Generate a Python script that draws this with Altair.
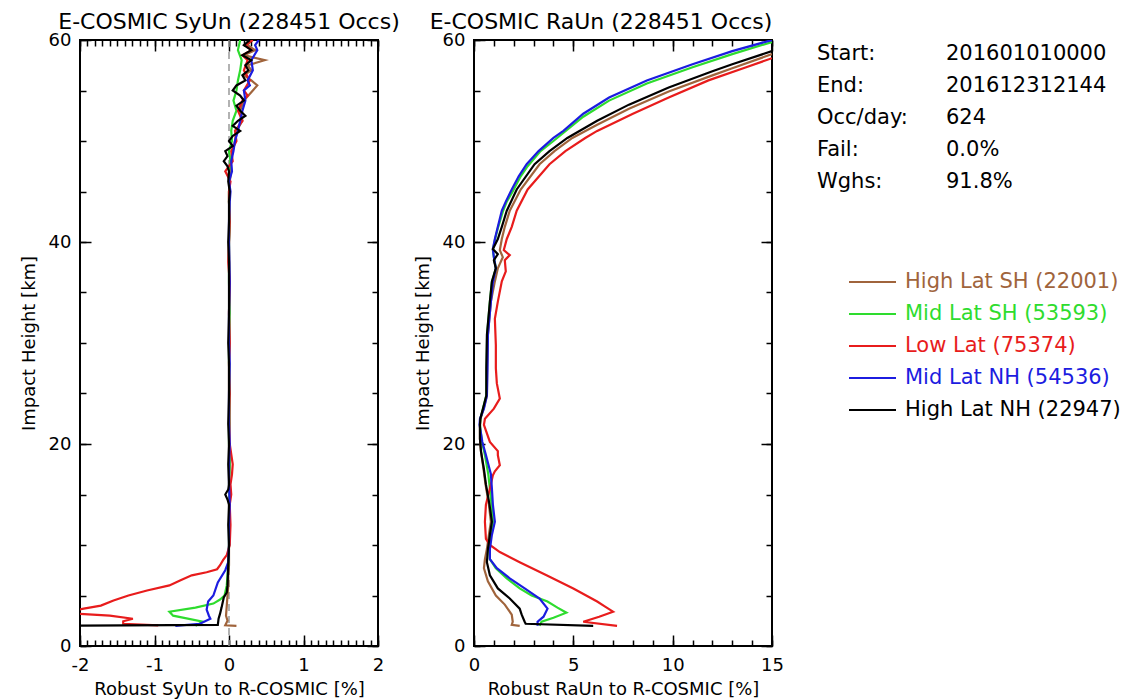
import altair as alt
import pandas as pd

FONT = "DejaVu Sans"

REGIONS = ["High Lat SH", "Mid Lat SH", "Low Lat", "Mid Lat NH", "High Lat NH"]
COUNTS = [22001, 53593, 75374, 54536, 22947]
COLORS = ["#a0643c", "#2edc2e", "#e81c1c", "#1c1ce0", "#000000"]

TITLE_SY = "E-COSMIC SyUn (228451 Occs)"
TITLE_RA = "E-COSMIC RaUn (228451 Occs)"
XTITLE_SY = "Robust SyUn to R-COSMIC [%]"
XTITLE_RA = "Robust RaUn to R-COSMIC [%]"
YTITLE = "Impact Height [km]"

INFO_LABELS = ["Start:", "End:", "Occ/day:", "Fail:", "Wghs:"]
INFO_VALUES = ["201601010000", "201612312144", "624", "0.0%", "91.8%"]

# ---------------- SyUn profiles (impact height km, value %) ----------------
SY_BROWN_H = [2.0, 2.05, 2.5, 3.0, 4.0, 5.0, 6.0, 7.0, 8.0, 10, 12, 14, 15, 16, 18, 20, 22, 25, 28, 30,
              33, 36, 40, 42, 44, 45, 46, 47, 48, 49, 50, 51, 52, 53, 54, 55, 55.5, 56, 56.5, 57,
              57.5, 58, 58.5, 59, 59.5, 60]
SY_BROWN_V = [0.1, -0.05, -0.02, -0.04, -0.03, -0.02, -0.01, -0.01, 0.0, 0.0, 0.01, 0.0, 0.01, 0.0, 0.01, 0.0, 0.01, 0.0, 0.0, 0.01,
              0.0, 0.01, 0.0, 0.01, 0.0, 0.0, 0.01, 0.03, 0.02, 0.05, 0.08, 0.1, 0.18, 0.15, 0.2, 0.32, 0.38, 0.3, 0.2, 0.3,
              0.25, 0.48, 0.2, 0.35, 0.25, 0.3]

SY_GREEN_H = [2.0, 2.4, 3.0, 3.4, 3.8, 4.2, 4.6, 5.0, 6.0, 7.0, 8.0, 10,
              12, 14, 16, 18, 20, 22, 25, 28, 30, 33, 36, 40, 42, 44,
              45, 46, 47, 48, 49, 50, 51, 52, 53, 54, 55, 56, 57, 58, 59, 60]
SY_GREEN_V = [-0.45, -0.35, -0.75, -0.8, -0.45, -0.21, -0.12, -0.06, -0.03, -0.02, -0.01, 0.0,
              0.0, 0.01, 0.0, 0.01, 0.0, 0.0, 0.01, 0.0, 0.0, 0.01, 0.0, 0.0, 0.01, 0.0,
              0.0, 0.01, 0.0, 0.02, 0.0, 0.04, 0.03, 0.05, 0.1, 0.06, 0.1, 0.12, 0.15, 0.17, 0.12, 0.15]

SY_RED_H = [2.05, 2.2, 2.45, 2.7, 3.0, 3.2, 3.45, 3.7, 4.0, 4.5, 5.0, 5.5, 6.0, 6.5, 7.0, 7.3, 7.6, 8.0, 8.5, 9.0, 10,
            12, 14, 15, 16, 17, 18, 19, 20, 22, 25, 28, 30, 33, 36, 38, 40, 42, 44,
            45, 46, 47, 48, 49, 50, 51, 52, 53, 54, 54.5, 55, 56, 57, 58, 58.5, 59, 59.5, 60]
SY_RED_V = [-0.95, -1.42, -1.42, -1.29, -1.6, -2.05, -2.15, -1.95, -1.72, -1.55, -1.35, -1.1, -0.8, -0.65, -0.5, -0.3, -0.16, -0.12, -0.08, -0.03, 0.01,
            0.02, 0.01, 0.03, 0.02, 0.04, 0.05, 0.03, 0.01, 0.0, 0.01, 0.0, 0.01, 0.0, 0.01, -0.01, 0.0, 0.01, 0.0,
            0.0, 0.02, -0.05, 0.05, 0.03, 0.1, 0.08, 0.18, 0.12, 0.18, 0.25, 0.2, 0.28, 0.2, 0.25, 0.18, 0.3, 0.22, 0.32]

SY_BLUE_H = [2.0, 2.2, 2.7, 3.0, 3.6, 4.4, 5.0, 6.3, 7.5, 8.3, 10,
             12, 14, 16, 18, 20, 22, 25, 28, 30, 33, 36, 40, 42, 44,
             45, 46, 47, 48, 49, 50, 51, 52, 53, 54, 55, 55.5, 56, 57, 58, 59, 59.5, 60]
SY_BLUE_V = [-0.72, -0.39, -0.25, -0.27, -0.30, -0.28, -0.21, -0.15, -0.05, -0.01, 0.0,
             0.0, 0.01, 0.0, 0.0, 0.01, 0.0, 0.0, 0.01, 0.0, 0.0, 0.01, 0.0, 0.0, 0.01,
             0.02, 0.0, 0.04, 0.03, 0.06, 0.08, 0.12, 0.15, 0.18, 0.22, 0.2, 0.28, 0.25, 0.32, 0.3, 0.38, 0.35, 0.4]

SY_BLACK_H = [2.0, 2.1, 2.7, 3.2, 3.8, 4.8, 5.3, 6.0, 8.0, 10,
              12, 14, 14.5, 15, 15.5, 16, 18, 20, 22, 25, 28, 30, 33, 36, 38, 40, 42, 44,
              45, 46, 47, 47.5, 48, 48.5, 49, 49.5, 50, 50.5, 51, 51.5, 52, 52.5, 53, 53.5, 54, 54.5,
              55, 55.5, 56, 56.5, 57, 57.5, 58, 58.5, 59, 59.5, 60]
SY_BLACK_V = [-2.2, -0.15, -0.14, -0.12, -0.10, -0.07, -0.03, -0.02, -0.01, 0.0,
              -0.01, 0.0, -0.02, -0.05, -0.01, 0.0, -0.01, 0.0, -0.01, 0.0, 0.0, -0.01, 0.0, 0.0, 0.0, -0.01, 0.0, 0.0,
              0.01, -0.01, 0.0, -0.02, -0.07, -0.02, -0.05, 0.05, 0.0, 0.05, 0.15, 0.05, 0.12, 0.22, 0.15, 0.1, 0.2, 0.15,
              0.05, 0.1, 0.22, 0.18, 0.26, 0.22, 0.3, 0.18, 0.3, 0.2, 0.28]

# ---------------- RaUn profiles ----------------
RA_BROWN_H = [2.0, 2.1, 2.4, 3.1, 4.1, 5.0, 6.4, 7.7, 8.6, 9.6, 11, 12.3, 14, 16, 17.5, 19.3, 20.5, 21.9, 22.5, 23.5,
              24.8, 27.5, 30.8, 34.1, 36.1, 37.4, 38.5, 39.2, 40.3, 41.5, 43.1, 45.2, 47.7, 49, 50.3, 51.6, 53.2,
              54.9, 56.5, 57.2, 58.6]
RA_BROWN_V = [2.3, 1.9, 1.95, 1.9, 1.55, 1.1, 0.7, 0.5, 0.55, 0.65, 0.75, 0.85, 0.75, 0.58, 0.48, 0.35, 0.3, 0.3, 0.33, 0.48,
              0.65, 0.66, 0.7, 0.85, 1.05, 1.2, 1.45, 1.3, 1.4, 1.55, 1.8, 2.35, 3.3, 4.05, 4.95, 6.2, 7.8,
              9.8, 12.0, 13.0, 15.0]

RA_GREEN_H = [2.0, 2.4, 2.8, 3.3, 3.8, 4.4, 5.0, 5.7, 6.7, 7.7, 8.6, 9.6, 11, 12.3, 14, 15.6, 17, 18.9, 20.2, 21.9,
              22.5, 23.5, 24.8, 27.5, 30.8, 34.1, 36, 37.4, 38.5, 39.2, 40.2, 41.5, 43, 44, 45, 46.5, 47.5, 49, 50,
              52.4, 54, 55.7, 57.3, 58.6, 59.8]
RA_GREEN_V = [3.3, 3.4, 4.0, 4.65, 4.2, 3.7, 2.9, 2.3, 1.65, 1.1, 0.8, 0.78, 0.85, 0.95, 0.88, 0.8, 0.72, 0.55, 0.4, 0.3,
              0.32, 0.45, 0.62, 0.64, 0.66, 0.8, 0.9, 1.1, 1.0, 0.95, 1.05, 1.22, 1.45, 1.65, 1.95, 2.35, 2.7, 3.35, 4.0,
              5.5, 6.8, 8.7, 11.0, 13.0, 15.0]

RA_RED_H = [2.0, 2.4, 2.9, 3.4, 3.9, 4.4, 5.7, 7.0, 8.3, 9.3, 10.0, 10.6, 12.3, 14.0, 15.6, 16.9, 17.3, 17.9, 18.9, 19.3,
            20.2, 21.9, 22.5, 23.5, 24.5, 26, 27.5, 29.8, 32.4, 34.1, 36.1, 37.1, 38.2, 38.7, 39.2, 40.3, 41.5, 43.1,
            45.2, 47.7, 49, 50.3, 51, 52.7, 54.3, 56, 57.3, 58.2]
RA_RED_V = [7.2, 5.5, 6.3, 7.0, 6.6, 6.2, 5.0, 3.65, 2.3, 1.3, 0.8, 0.6, 0.55, 0.6, 0.8, 0.95, 1.05, 1.3, 1.2, 1.2,
            0.8, 0.5, 0.55, 1.0, 1.3, 1.15, 1.1, 1.1, 1.05, 1.2, 1.4, 1.6, 1.55, 1.8, 1.5, 1.65, 1.9, 2.15,
            2.7, 3.8, 4.6, 5.6, 6.2, 8.0, 9.8, 11.8, 13.7, 15.0]

RA_BLUE_H = [2.0, 2.4, 2.9, 3.7, 4.7, 5.7, 6.7, 7.7, 8.6, 9.6, 11, 12.3, 14, 15.6, 17, 18.9, 20.2, 21.9, 22.5, 23.5,
             24.8, 27.5, 30.8, 34.1, 36, 37.4, 38.5, 39.3, 40.3, 41.5, 43.1, 44, 45.2, 46.5, 47.7, 49, 50.3, 51,
             52.7, 54.3, 56, 57.6, 58.9, 60]
RA_BLUE_V = [3.2, 3.2, 3.5, 3.7, 3.3, 2.55, 1.8, 1.15, 0.8, 0.8, 0.9, 1.05, 0.95, 0.9, 0.85, 0.6, 0.42, 0.28, 0.3, 0.5,
             0.65, 0.68, 0.7, 0.85, 0.95, 1.1, 1.0, 0.95, 1.05, 1.2, 1.4, 1.6, 1.9, 2.25, 2.65, 3.25, 4.0, 4.5,
             5.5, 6.8, 8.7, 11.0, 13.0, 15.0]

RA_BLACK_H = [2.0, 2.2, 2.4, 3.1, 3.7, 4.7, 5.7, 7.0, 8.3, 9.6, 11, 12.3, 14, 16, 17.5, 19.3, 20.5, 21.9, 22.5, 23.5,
              24.8, 27.5, 30.8, 34.1, 36.1, 37.4, 38.2, 38.8, 39.3, 40.3, 41.5, 43.1, 45.2, 47.7, 49, 50.3, 52,
              53.6, 55.3, 56.9, 57.6, 58.9]
RA_BLACK_V = [6.0, 2.6, 2.55, 2.4, 2.3, 1.8, 1.2, 0.8, 0.65, 0.7, 0.8, 0.9, 0.78, 0.6, 0.5, 0.35, 0.3, 0.3, 0.32, 0.45,
              0.62, 0.62, 0.65, 0.8, 0.9, 1.1, 1.0, 1.2, 0.95, 1.2, 1.4, 1.65, 2.15, 3.05, 3.8, 4.7, 6.2,
              7.8, 9.8, 12.0, 13.0, 15.0]

ZERO_LINE = [0.0]

# axis tick values
SY_X_MAJOR = [-2, -1, 0, 1, 2]
SY_X_MINOR = [round(-2 + 0.1 * i, 1) for i in range(41)]
RA_X_MAJOR = [0, 5, 10, 15]
RA_X_MINOR = list(range(0, 16))
Y_MAJOR = [0, 20, 40, 60]
Y_MINOR = list(range(0, 61, 5))

PLOT_W = 298
PLOT_H = 606


def build_df(series):
    rows = []
    for region, (hs, vs) in zip(REGIONS, series):
        for i, (h, v) in enumerate(zip(hs, vs)):
            rows.append({"region": region, "idx": i, "h": h, "val": v})
    return pd.DataFrame(rows)


sy_df = build_df([(SY_BROWN_H, SY_BROWN_V), (SY_GREEN_H, SY_GREEN_V), (SY_RED_H, SY_RED_V),
                  (SY_BLUE_H, SY_BLUE_V), (SY_BLACK_H, SY_BLACK_V)])
ra_df = build_df([(RA_BROWN_H, RA_BROWN_V), (RA_GREEN_H, RA_GREEN_V), (RA_RED_H, RA_RED_V),
                  (RA_BLUE_H, RA_BLUE_V), (RA_BLACK_H, RA_BLACK_V)])

color_enc = alt.Color("region:N", scale=alt.Scale(domain=REGIONS, range=COLORS), legend=None)


def label_axis(orient, values, title, lab_pad, title_pad):
    return alt.Axis(orient=orient, values=values, title=title, ticks=False, tickSize=0,
                    domain=False, grid=False, labelFont=FONT, labelFontSize=18,
                    labelColor="black", labelPadding=lab_pad, labelFlush=False,
                    labelOverlap=False, labelExpr="'' + datum.value",
                    titleFont=FONT, titleFontSize=18, titleFontWeight="normal",
                    titleColor="black", titlePadding=title_pad)


def tick_axis(orient, values, size):
    return alt.Axis(orient=orient, values=values, title=None, labels=False, domain=False,
                    grid=False, ticks=True, tickSize=size, offset=-size,
                    tickColor="black", tickWidth=1.5)


def make_panel(df, xdom, xmaj, xmin, xtitle, title, title_dx, zero_line):
    xs = alt.Scale(domain=xdom, nice=False, zero=False)
    ys = alt.Scale(domain=[0, 60], nice=False, zero=False)
    base = alt.Chart(df)
    lines = base.mark_line(strokeWidth=2.2, clip=True).encode(
        x=alt.X("val:Q", scale=xs, axis=label_axis("bottom", xmaj, xtitle, 10, 6)),
        y=alt.Y("h:Q", scale=ys, axis=label_axis("left", Y_MAJOR, YTITLE, 9, 10)),
        color=color_enc,
        order=alt.Order("idx:Q"),
    )

    def ghost(xo, yo, xv, yv, size):
        return base.mark_line(opacity=0, clip=True).encode(
            x=alt.X("val:Q", scale=xs, axis=tick_axis(xo, xv, size)),
            y=alt.Y("h:Q", scale=ys, axis=tick_axis(yo, yv, size)),
            detail="region:N",
            order=alt.Order("idx:Q"),
        )

    layers = []
    if zero_line:
        zdf = pd.DataFrame({"z": ZERO_LINE})
        layers.append(alt.Chart(zdf).mark_rule(color="#999999", strokeWidth=1.5, strokeDash=[7, 5]).encode(
            x=alt.X("z:Q", scale=xs, axis=None)))
    layers += [
        lines,
        ghost("bottom", "left", xmaj, Y_MAJOR, 11),
        ghost("bottom", "left", xmin, Y_MINOR, 6),
        ghost("top", "right", xmaj, Y_MAJOR, 11),
        ghost("top", "right", xmin, Y_MINOR, 6),
    ]
    return alt.layer(*layers).resolve_axis(x="independent", y="independent").properties(
        width=PLOT_W, height=PLOT_H,
        title=alt.TitleParams(text=title, font=FONT, fontSize=22, fontWeight="normal", color="black",
                              anchor="middle", frame="group", offset=-3, dx=title_dx),
    )


left = make_panel(sy_df, [-2, 2], SY_X_MAJOR, SY_X_MINOR, XTITLE_SY, TITLE_SY, 0, True)
right = make_panel(ra_df, [0, 15], RA_X_MAJOR, RA_X_MINOR, XTITLE_RA, TITLE_RA, -22, False)

# ---------------- info block + legend panel ----------------
ROW_STEP = 32
INFO_Y0 = 14
LEG_Y0 = 242
LAB_X = -51
VAL_X = 78
LEG_X1 = -19
LEG_X2 = 28
LEG_TX = 37
SIDE_W = 260

info_df = pd.DataFrame({"label": INFO_LABELS, "value": INFO_VALUES})
info_df["y"] = [INFO_Y0 + ROW_STEP * i for i in range(len(INFO_LABELS))]
info_df["xl"] = LAB_X
info_df["xv"] = VAL_X

leg_df = pd.DataFrame({"region": REGIONS, "text": [f"{r} ({c})" for r, c in zip(REGIONS, COUNTS)]})
leg_df["y"] = [LEG_Y0 + ROW_STEP * i for i in range(len(REGIONS))]
leg_df["x1"] = LEG_X1
leg_df["x2"] = LEG_X2
leg_df["xt"] = LEG_TX

sx = alt.Scale(domain=[0, SIDE_W], nice=False, zero=False)
sy = alt.Scale(domain=[0, PLOT_H], nice=False, zero=False, reverse=True)

info_lab = alt.Chart(info_df).mark_text(align="left", baseline="middle", font=FONT, fontSize=21, color="black").encode(
    x=alt.X("xl:Q", scale=sx, axis=None), y=alt.Y("y:Q", scale=sy, axis=None), text="label:N")
info_val = alt.Chart(info_df).mark_text(align="left", baseline="middle", font=FONT, fontSize=21, color="black").encode(
    x=alt.X("xv:Q", scale=sx, axis=None), y=alt.Y("y:Q", scale=sy, axis=None), text="value:N")
leg_line = alt.Chart(leg_df).mark_rule(strokeWidth=2).encode(
    x=alt.X("x1:Q", scale=sx, axis=None), x2="x2:Q", y=alt.Y("y:Q", scale=sy, axis=None), color=color_enc)
leg_text = alt.Chart(leg_df).mark_text(align="left", baseline="middle", font=FONT, fontSize=21).encode(
    x=alt.X("xt:Q", scale=sx, axis=None), y=alt.Y("y:Q", scale=sy, axis=None), text="text:N", color=color_enc)

side = alt.layer(info_lab, info_val, leg_line, leg_text).properties(
    width=SIDE_W, height=PLOT_H, view=alt.ViewBackground(stroke="transparent"))

chart = alt.hconcat(left, right, side, spacing=96, bounds="flush").properties(
    padding={"left": 11, "top": 2, "right": 5, "bottom": 0},
    background="white",
).configure(font=FONT).configure_view(stroke="black", strokeWidth=2)

chart.save("out.html", embed_options={"renderer": "svg", "actions": False})
